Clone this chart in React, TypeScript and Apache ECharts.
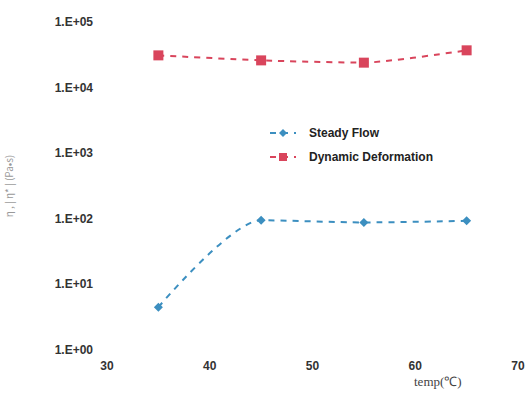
import React, { useEffect, useRef } from "react";
import * as echarts from "echarts";

const temps = [35, 45, 55, 65];
const steadyFlow = [4.5, 95, 88, 93];
const dynamicDeformation = [31000, 26000, 24000, 37000];
const xTicks = [30, 40, 50, 60, 70];
const yTickExponents = [0, 1, 2, 3, 4, 5];

export default function App() {
  const ref = useRef<HTMLDivElement>(null);
  useEffect(() => {
    if (!ref.current) return;
    const chart = echarts.init(ref.current, undefined, { renderer: "svg" });
    const fmtY = (v: number) => {
      const e = Math.round(Math.log10(v));
      if (!yTickExponents.includes(e)) return "";
      return "1.E+" + (e < 10 ? "0" + e : String(e));
    };
    chart.setOption({
      animation: false,
      backgroundColor: "#ffffff",
      grid: { left: 107, right: 12, top: 22, bottom: 47, outerBoundsMode: "none", containLabel: false },
      legend: {
        orient: "vertical",
        left: 264,
        top: 122,
        itemGap: 12,
        itemWidth: 26,
        itemHeight: 10,
        textStyle: {
          fontFamily: "Liberation Sans",
          fontWeight: "bold",
          fontSize: 12,
          color: "#222",
          padding: [0, 0, 0, 8],
        },
        data: ["Steady Flow", "Dynamic Deformation"],
      },
      xAxis: {
        type: "value",
        min: xTicks[0],
        max: xTicks[xTicks.length - 1],
        interval: 10,
        axisLine: { show: false },
        axisTick: { show: false },
        splitLine: { show: false },
        axisLabel: {
          margin: 10,
          fontFamily: "Liberation Sans",
          fontWeight: "bold",
          fontSize: 12,
          color: "#333",
        },
      },
      yAxis: {
        type: "log",
        logBase: 10,
        min: 1,
        max: 100000,
        axisLine: { show: false },
        axisTick: { show: false },
        splitLine: { show: false },
        name: "η , | η* | (Pa•s)",
        nameLocation: "middle",
        nameGap: 94,
        nameRotate: 90,
        nameTextStyle: {
          fontFamily: "Noto Sans CJK JP",
          fontSize: 10,
          color: "#999",
        },
        axisLabel: {
          margin: 14,
          formatter: fmtY,
          fontFamily: "Liberation Sans",
          fontWeight: "bold",
          fontSize: 12,
          color: "#333",
        },
      },
      graphic: [
        {
          type: "text",
          left: 414,
          top: 375,
          style: {
            text: "temp(℃)",
            fontFamily: "Liberation Serif",
            fontSize: 13,
            fill: "#444",
          },
        },
      ],
      series: [
        {
          name: "Steady Flow",
          type: "line",
          smooth: 0.25,
          data: temps.map((t, i) => [t, steadyFlow[i]]),
          symbol: "diamond",
          symbolSize: 9,
          itemStyle: { color: "#3c8fc0" },
          lineStyle: { color: "#3c8fc0", width: 2, type: [6, 6] },
        },
        {
          name: "Dynamic Deformation",
          type: "line",
          smooth: 0.2,
          data: temps.map((t, i) => [t, dynamicDeformation[i]]),
          symbol: "rect",
          symbolSize: 10,
          itemStyle: { color: "#d9455c" },
          lineStyle: { color: "#d9455c", width: 2, type: [6, 6] },
        },
      ],
    });
    return () => chart.dispose();
  }, []);
  return <div ref={ref} style={{ width: 530, height: 397, position: "absolute", left: 0, top: 0 }} />;
}
